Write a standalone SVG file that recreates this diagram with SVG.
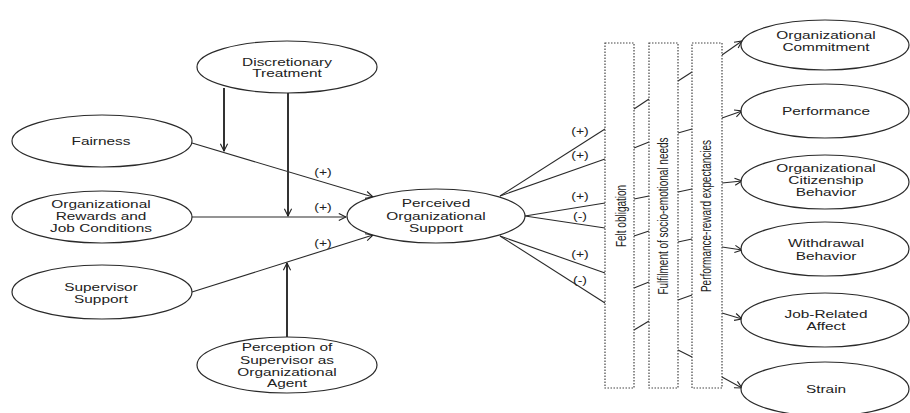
<svg xmlns="http://www.w3.org/2000/svg" width="910" height="413" viewBox="0 0 910 413">
<style>
.bg{fill:#fff}
.node ellipse{fill:#fff;stroke:#2a2a2a;stroke-width:1.2}
.t{font-family:"Liberation Sans",Arial,sans-serif;font-size:11px;fill:#222;text-anchor:middle}
.vt{font-family:"Liberation Sans",Arial,sans-serif;font-size:10px;fill:#222;text-anchor:middle}
.lbl{font-family:"Liberation Sans",Arial,sans-serif;font-size:10px;fill:#222;text-anchor:middle}
.c{fill:none;stroke:#2a2a2a;stroke-width:1.1}
.mod{fill:none;stroke:#333;stroke-width:2}
.box{fill:#fff;stroke:#444;stroke-width:1.2;stroke-dasharray:1.5 1.5}
</style>
<defs>
<marker id="arr" viewBox="0 0 10 10" refX="9" refY="5" markerWidth="9" markerHeight="9" orient="auto" markerUnits="userSpaceOnUse">
<path d="M1,1 L9,5 L1,9" fill="none" stroke="#222" stroke-width="1.2"/>
</marker>
</defs>
<rect class="bg" width="910" height="413"/>

<g id="connectors">
<!-- inputs to POS -->
<line class="c" x1="192" y1="143" x2="373" y2="197" marker-end="url(#arr)"/>
<line class="c" x1="192" y1="217" x2="346" y2="217" marker-end="url(#arr)"/>
<line class="c" x1="192" y1="292" x2="373" y2="235" marker-end="url(#arr)"/>
<!-- moderators -->
<line class="mod" x1="224" y1="88" x2="224" y2="151" marker-end="url(#arr)"/>
<line class="mod" x1="288" y1="93" x2="288" y2="216" marker-end="url(#arr)"/>
<line class="mod" x1="287" y1="337" x2="287" y2="263" marker-end="url(#arr)"/>
<!-- POS to first box -->
<line class="c" x1="500" y1="196" x2="605" y2="129"/>
<line class="c" x1="500" y1="196" x2="605" y2="159"/>
<line class="c" x1="525" y1="216" x2="605" y2="203"/>
<line class="c" x1="525" y1="216" x2="605" y2="228"/>
<line class="c" x1="500" y1="236" x2="605" y2="273"/>
<line class="c" x1="500" y1="236" x2="605" y2="303"/>
<!-- box1 to box2 -->
<line class="c" x1="634" y1="109" x2="649" y2="99"/>
<line class="c" x1="634" y1="148" x2="649" y2="142"/>
<line class="c" x1="634" y1="199" x2="649" y2="196"/>
<line class="c" x1="634" y1="236" x2="649" y2="231"/>
<line class="c" x1="634" y1="288" x2="649" y2="282"/>
<line class="c" x1="634" y1="330" x2="649" y2="321"/>
<!-- box2 to box3 -->
<line class="c" x1="678" y1="81" x2="692" y2="72"/>
<line class="c" x1="678" y1="133" x2="692" y2="129"/>
<line class="c" x1="678" y1="192" x2="692" y2="189"/>
<line class="c" x1="678" y1="242" x2="692" y2="239"/>
<line class="c" x1="678" y1="300" x2="692" y2="295"/>
<line class="c" x1="678" y1="350" x2="692" y2="357"/>
<!-- box3 to outcomes -->
<line class="c" x1="722" y1="55" x2="742" y2="41" marker-end="url(#arr)"/>
<line class="c" x1="722" y1="118" x2="742" y2="111" marker-end="url(#arr)"/>
<line class="c" x1="722" y1="183" x2="742" y2="181" marker-end="url(#arr)"/>
<line class="c" x1="722" y1="247" x2="742" y2="250" marker-end="url(#arr)"/>
<line class="c" x1="722" y1="313" x2="742" y2="319" marker-end="url(#arr)"/>
<line class="c" x1="722" y1="377" x2="742" y2="388" marker-end="url(#arr)"/>
<!-- labels -->
<text class="lbl" transform="translate(323,0) scale(1.4,1)"><tspan x="0" y="176">(+)</tspan><tspan x="0" y="211">(+)</tspan><tspan x="0" y="247">(+)</tspan></text>
<text class="lbl" transform="translate(580,0) scale(1.4,1)"><tspan x="0" y="135">(+)</tspan><tspan x="0" y="159">(+)</tspan><tspan x="0" y="200">(+)</tspan><tspan x="0" y="220">(-)</tspan><tspan x="0" y="258">(+)</tspan><tspan x="0" y="284">(-)</tspan></text>
</g>

<g id="mediators">
<g id="felt-obligation">
<rect class="box" x="605" y="43" width="29" height="345"/>
<text class="vt" transform="translate(626,216) scale(1.4,1) rotate(-90)">Felt obligation</text>
</g>
<g id="fulfilment">
<rect class="box" x="649" y="43" width="29" height="345"/>
<text class="vt" transform="translate(668,216) scale(1.4,1) rotate(-90)">Fulfilment of socio-emotional needs</text>
</g>
<g id="performance-reward">
<rect class="box" x="692" y="43" width="30" height="345"/>
<text class="vt" transform="translate(711,216) scale(1.4,1) rotate(-90)">Performance-reward expectancies</text>
</g>
</g>

<g id="discretionary" class="node">
<ellipse cx="287" cy="67" rx="90" ry="26"/>
<text class="t" transform="translate(287,0) scale(1.4,1)"><tspan x="0" y="66">Discretionary</tspan><tspan x="0" y="77">Treatment</tspan></text>
</g>
<g id="fairness" class="node">
<ellipse cx="102" cy="141" rx="90" ry="26"/>
<text class="t" transform="translate(101,0) scale(1.4,1)"><tspan x="0" y="145">Fairness</tspan></text>
</g>
<g id="rewards" class="node">
<ellipse cx="102" cy="217" rx="90" ry="26"/>
<text class="t" transform="translate(101,0) scale(1.4,1)"><tspan x="0" y="208">Organizational</tspan><tspan x="0" y="220">Rewards and</tspan><tspan x="0" y="232">Job Conditions</tspan></text>
</g>
<g id="supervisor-support" class="node">
<ellipse cx="102" cy="292" rx="90" ry="27"/>
<text class="t" transform="translate(101,0) scale(1.4,1)"><tspan x="0" y="291">Supervisor</tspan><tspan x="0" y="303">Support</tspan></text>
</g>
<g id="perception" class="node">
<ellipse cx="287" cy="365" rx="90" ry="28"/>
<text class="t" transform="translate(287,0) scale(1.4,1)"><tspan x="0" y="351">Perception of</tspan><tspan x="0" y="364">Supervisor as</tspan><tspan x="0" y="376">Organizational</tspan><tspan x="0" y="387">Agent</tspan></text>
</g>
<g id="pos" class="node">
<ellipse cx="436" cy="216" rx="89" ry="27"/>
<text class="t" transform="translate(436,0) scale(1.4,1)"><tspan x="0" y="207">Perceived</tspan><tspan x="0" y="220">Organizational</tspan><tspan x="0" y="232">Support</tspan></text>
</g>
<g id="commitment" class="node">
<ellipse cx="825" cy="45" rx="84" ry="25"/>
<text class="t" transform="translate(826,0) scale(1.4,1)"><tspan x="0" y="39">Organizational</tspan><tspan x="0" y="51">Commitment</tspan></text>
</g>
<g id="performance" class="node">
<ellipse cx="825" cy="111" rx="84" ry="27"/>
<text class="t" transform="translate(826,0) scale(1.4,1)"><tspan x="0" y="115">Performance</tspan></text>
</g>
<g id="ocb" class="node">
<ellipse cx="825" cy="182" rx="84" ry="27"/>
<text class="t" transform="translate(826,0) scale(1.4,1)"><tspan x="0" y="172">Organizational</tspan><tspan x="0" y="184">Citizenship</tspan><tspan x="0" y="196">Behavior</tspan></text>
</g>
<g id="withdrawal" class="node">
<ellipse cx="825" cy="249" rx="84" ry="27"/>
<text class="t" transform="translate(826,0) scale(1.4,1)"><tspan x="0" y="247">Withdrawal</tspan><tspan x="0" y="260">Behavior</tspan></text>
</g>
<g id="job-affect" class="node">
<ellipse cx="825" cy="320" rx="84" ry="27"/>
<text class="t" transform="translate(826,0) scale(1.4,1)"><tspan x="0" y="318">Job-Related</tspan><tspan x="0" y="330">Affect</tspan></text>
</g>
<g id="strain" class="node">
<ellipse cx="825" cy="389" rx="84" ry="27"/>
<text class="t" transform="translate(826,0) scale(1.4,1)"><tspan x="0" y="393">Strain</tspan></text>
</g>
</svg>
